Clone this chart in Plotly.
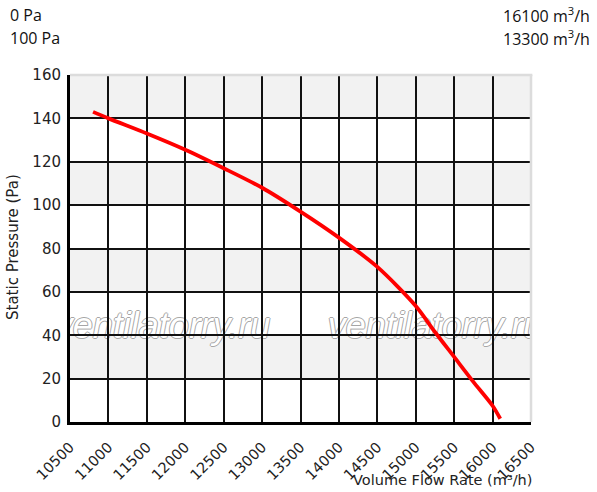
import plotly.graph_objects as go

# ---- data ----
flow = [10800, 11000, 11500, 12000, 12500, 13000, 13500, 14000, 14500, 15000, 15250, 15500, 15750, 16000, 16100]
pressure = [143, 140, 133, 125.5, 117, 108, 97, 85, 71.5, 53.5, 41.5, 30, 18.5, 7.5, 1.5]

x_ticks = [10500, 11000, 11500, 12000, 12500, 13000, 13500, 14000, 14500, 15000, 15500, 16000, 16500]
y_ticks = [0, 20, 40, 60, 80, 100, 120, 140, 160]
band_starts = [20, 60, 100, 140]
band_height = 20

header_left = ["0 Pa", "100 Pa"]
header_right = ["16100 m<sup>3</sup>/h", "13300 m<sup>3</sup>/h"]
x_title = "Volume Flow Rate (m³/h)"
y_title = "Static Pressure (Pa)"
watermark = "ventilatorry.ru"
watermark_pos = [(11704, 45.8), (15256, 45.8)]

W, H = 597, 492
L, R, T, B = 70, 66, 75, 70
pw, ph = W - L - R, H - T - B


def px_x(p):
    return (p - L) / pw


def px_y(p):
    return (H - B - p) / ph


fig = go.Figure()
fig.add_trace(go.Scatter(
    x=flow, y=pressure, mode="lines",
    line=dict(color="#ff0000", width=3.8, shape="spline", smoothing=0.8),
    hoverinfo="skip", showlegend=False,
))

shapes = []
for b in band_starts:
    shapes.append(dict(type="rect", xref="paper", yref="y", x0=0, x1=1, y0=b, y1=b + band_height,
                       fillcolor="#f2f2f2", line=dict(width=0), layer="below"))

oc = "#a6a6a6"
wm_font = dict(family="Liberation Sans", size=36, color="#ffffff", style="italic",
               shadow=f"1px 0 0 {oc}, -1px 0 0 {oc}, 0 1px 0 {oc}, 0 -1px 0 {oc}")
try:
    go.layout.shape.label.Font(**wm_font)
except Exception:
    wm_font = dict(family="Liberation Sans", size=36, color="#d6d6d6")

for (wx, wy) in watermark_pos:
    shapes.append(dict(type="rect", xref="x", yref="y", x0=wx - 1, x1=wx + 1, y0=wy - 0.1, y1=wy + 0.1,
                       line=dict(width=0), fillcolor="rgba(0,0,0,0)", layer="below",
                       label=dict(text=watermark, font=wm_font, textposition="middle center")))

# light border top / right
shapes.append(dict(type="line", xref="paper", yref="paper", x0=0, x1=1.003, y0=1, y1=1,
                   line=dict(color="#dcdcdc", width=2.5), layer="above"))
shapes.append(dict(type="line", xref="paper", yref="paper", x0=1, x1=1, y0=0, y1=1,
                   line=dict(color="#dcdcdc", width=2.5), layer="above"))

xtick_font = dict(family="DejaVu Sans", size=14.5, color="#222222")
ytick_font = dict(family="DejaVu Sans", size=15, color="#222222")
title_font = dict(family="DejaVu Sans", size=14.5, color="#222222")
head_font = dict(family="Open Sans", size=16, color="#111111")

annotations = []
for i, txt in enumerate(header_left):
    annotations.append(dict(text=txt, xref="paper", yref="paper", x=px_x(8), y=px_y(15 + 23 * i),
                            xanchor="left", yanchor="middle", showarrow=False, font=head_font))
for i, txt in enumerate(header_right):
    annotations.append(dict(text=txt, xref="paper", yref="paper", x=px_x(592), y=px_y(15 + 23 * i),
                            xanchor="right", yanchor="middle", showarrow=False, font=head_font))
annotations.append(dict(text=x_title, xref="paper", yref="paper", x=px_x(534), y=px_y(480),
                        xanchor="right", yanchor="middle", showarrow=False, font=title_font))
annotations.append(dict(text=y_title, xref="paper", yref="paper", x=px_x(13), y=px_y(247),
                        xanchor="center", yanchor="middle", showarrow=False, textangle=-90,
                        font=dict(family="DejaVu Sans", size=15, color="#222222")))

fig.update_layout(
    width=W, height=H,
    margin=dict(l=L, r=R, t=T, b=B, pad=0, autoexpand=False),
    paper_bgcolor="white", plot_bgcolor="white",
    shapes=shapes, annotations=annotations,
    showlegend=False,
)
fig.update_xaxes(
    range=[10500, 16500], tickmode="array", tickvals=x_ticks, ticktext=[str(v) for v in x_ticks],
    tickangle=-45, tickfont=xtick_font, showgrid=True, gridcolor="#111111", gridwidth=1.5,
    showline=True, linecolor="#000000", linewidth=3, zeroline=False, ticks="",
    ticklabelstandoff=8, fixedrange=True, automargin=False,
)
fig.update_yaxes(
    range=[0, 160], tickmode="array", tickvals=y_ticks, ticktext=[str(v) for v in y_ticks],
    tickfont=ytick_font, showgrid=True, gridcolor="#111111", gridwidth=1.5,
    showline=True, linecolor="#000000", linewidth=3, zeroline=False, ticks="",
    ticklabelstandoff=3, fixedrange=True, automargin=False,
)

fig.write_html("out.html", config={"displayModeBar": False},
               post_script="document.body.style.margin='0';document.body.style.padding='0';")
